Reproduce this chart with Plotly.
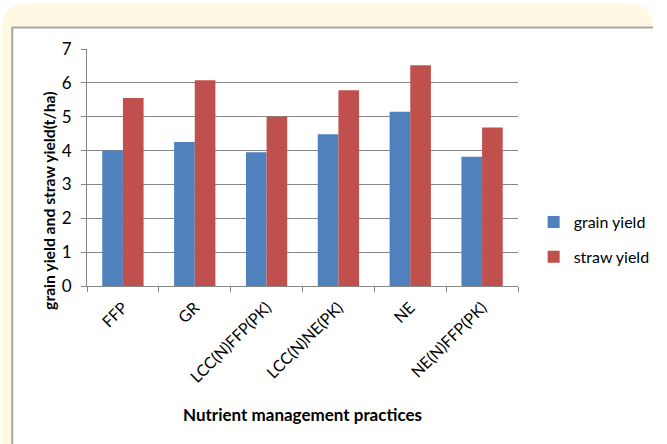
import plotly.graph_objects as go

# Nutrient management practices and yields (t/ha)
practices = ["FFP", "GR", "LCC(N)FFP(PK)", "LCC(N)NE(PK)", "NE", "NE(N)FFP(PK)"]
grain_yield = [4.0, 4.25, 3.95, 4.48, 5.15, 3.82]
straw_yield = [5.55, 6.08, 5.0, 5.78, 6.52, 4.68]

W, H = 667, 444
L, R, T, B = 87, 139, 49, 158
pw, ph = W - L - R, H - T - B


def px(x):
    return (x - L) / pw


def py(y):
    return 1 - (y - T) / ph


font = "Lato, 'Open Sans', sans-serif"

fig = go.Figure()
fig.add_trace(go.Bar(name="grain yield", x=practices, y=grain_yield, legendgroup="g",
                     marker=dict(color="#4F81BD", line=dict(width=0))))
fig.add_trace(go.Bar(name="straw yield", x=practices, y=straw_yield, legendgroup="s",
                     marker=dict(color="#C0504D", line=dict(width=0))))

# cream frame with rounded top corners, white chart panel with grey edge
r = 26
x0, x1, y0, y1 = 0, 666, 3, 444
cream = (f"M {px(x0)},{py(y1)} L {px(x0)},{py(y0 + r)} "
         f"Q {px(x0)},{py(y0)} {px(x0 + r)},{py(y0)} "
         f"L {px(x1 - r)},{py(y0)} Q {px(x1)},{py(y0)} {px(x1)},{py(y0 + r)} "
         f"L {px(x1)},{py(y1)} Z")
shapes = [
    dict(type="path", path=cream, xref="paper", yref="paper",
         fillcolor="#FFF9E4", line=dict(width=0), layer="below"),
    dict(type="rect", xref="paper", yref="paper", x0=px(10), x1=px(668),
         y0=py(27), y1=py(445), fillcolor="white", line=dict(width=0), layer="below"),
    dict(type="line", xref="paper", yref="paper", x0=px(10), x1=px(666),
         y0=py(27.5), y1=py(27.5), line=dict(color="#A6A6A6", width=2), layer="below"),
    dict(type="line", xref="paper", yref="paper", x0=px(10.5), x1=px(10.5),
         y0=py(27), y1=py(445), line=dict(color="#A6A6A6", width=2), layer="below"),
]

fig.update_layout(
    width=W, height=H,
    margin=dict(l=L, r=R, t=T, b=B),
    paper_bgcolor="white",
    plot_bgcolor="rgba(0,0,0,0)",
    barmode="group",
    bargap=0.425,
    bargroupgap=0,
    font=dict(family=font, color="#000000"),
    shapes=shapes,
    showlegend=True,
    legend=dict(x=px(544), y=py(205), xanchor="left", yanchor="top",
                font=dict(size=16, family=font), bgcolor="rgba(0,0,0,0)",
                traceorder="grouped", tracegroupgap=11,
                itemsizing="constant", itemwidth=30),
    xaxis=dict(
        type="category", tickangle=-45, tickson="boundaries",
        ticks="outside", ticklen=5, tickcolor="#868686",
        showline=True, linecolor="#868686", linewidth=1,
        tickfont=dict(size=16, family=font), showgrid=False,
        ticklabelstandoff=5,
    ),
    yaxis=dict(
        range=[0, 7], dtick=1, ticks="outside", ticklen=5, tickcolor="#868686",
        showline=True, linecolor="#868686", linewidth=1,
        showgrid=True, gridcolor="#868686", gridwidth=1,
        zeroline=False, tickfont=dict(size=17, family=font),
        ticklabelstandoff=6,
    ),
    annotations=[
        dict(text="<b>grain yield and straw yield(t/ha)</b>", xref="paper", yref="paper",
             x=px(48), y=py(200), textangle=-90, showarrow=False,
             font=dict(size=15.7, family=font), xanchor="center", yanchor="middle"),
        dict(text="<b>Nutrient management practices</b>", xref="paper", yref="paper",
             x=px(307), y=py(414), showarrow=False,
             font=dict(size=17, family=font), xanchor="center", yanchor="middle"),
    ],
)

fig.write_html("out.html")
